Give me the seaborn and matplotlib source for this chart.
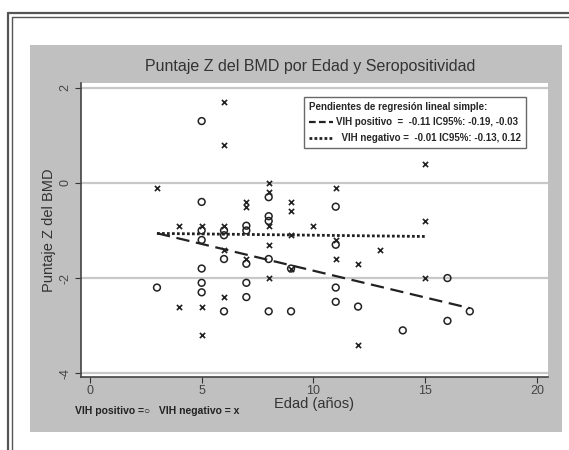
import numpy as np
import pandas as pd
import seaborn as sns
import matplotlib.pyplot as plt
from matplotlib.lines import Line2D
from matplotlib.patches import Rectangle

# Data (edad en años, puntaje Z)
pos_edad = [3, 5, 5, 5, 5, 5, 5, 5, 6, 6, 6, 6, 7, 7, 7, 7, 7,
            8, 8, 8, 8, 8, 9, 9, 11, 11, 11, 11, 12, 14, 16, 16, 17]
pos_z = [-2.2, 1.3, -0.4, -1.0, -1.2, -1.8, -2.1, -2.3, -1.0, -1.1, -1.6, -2.7,
         -0.9, -1.0, -1.7, -2.1, -2.4, -0.3, -0.7, -0.8, -1.6, -2.7, -1.8, -2.7,
         -0.5, -1.3, -2.2, -2.5, -2.6, -3.1, -2.0, -2.9, -2.7]

neg_edad = [3, 4, 4, 5, 5, 5, 6, 6, 6, 6, 6, 7, 7, 7, 8, 8, 8, 8, 8,
            9, 9, 9, 9, 10, 11, 11, 11, 12, 12, 13, 15, 15, 15]
neg_z = [-0.1, -0.9, -2.6, -0.9, -2.6, -3.2, 1.7, 0.8, -0.9, -1.4, -2.4,
         -0.4, -0.5, -1.6, 0.0, -0.2, -0.9, -1.3, -2.0, -0.4, -0.6, -1.1, -1.8,
         -0.9, -0.1, -1.2, -1.6, -1.7, -3.4, -1.4, 0.4, -0.8, -2.0]

x_ticks = [0, 5, 10, 15, 20]
y_ticks = [-4, -2, 0, 2]

pos = pd.DataFrame({"edad": pos_edad, "z": pos_z})
neg = pd.DataFrame({"edad": neg_edad, "z": neg_z})

sns.set_style("ticks")
plt.rcParams["font.family"] = ["Liberation Sans", "DejaVu Sans"]

W, H = 569, 450
fig = plt.figure(figsize=(W / 100, H / 100), dpi=100)
fig.patch.set_facecolor("white")

def fx(px):
    return px / W

def fy(py):
    return 1 - py / H

# grey Stata panel
fig.add_artist(Rectangle((fx(30), fy(432)), fx(562) - fx(30), fy(45) - fy(432),
                         transform=fig.transFigure, facecolor="#c0c0c0",
                         edgecolor="none", zorder=0))
# document frame (double line)
for x0 in (8, 12):
    fig.add_artist(Line2D([fx(x0), fx(x0)], [fy(x0 + 5), 0], transform=fig.transFigure,
                          color="#555555", lw=1.6 if x0 == 8 else 1.0))
    fig.add_artist(Line2D([fx(x0), 1], [fy(x0 + 5), fy(x0 + 5)], transform=fig.transFigure,
                          color="#555555", lw=1.6 if x0 == 8 else 1.0))

ax = fig.add_axes([fx(81), fy(377), fx(548) - fx(81), fy(83) - fy(377)])
ax.set_facecolor("white")

for yv in y_ticks:
    ax.axhline(yv, color="#c8c8c8", lw=1.6, zorder=0)

sns.scatterplot(data=pos, x="edad", y="z", marker="o", s=24, facecolor="none",
                edgecolor="#222222", linewidth=1.1, ax=ax, zorder=3)
sns.scatterplot(data=neg, x="edad", y="z", marker="x", s=14, color="#222222",
                linewidth=1.2, ax=ax, zorder=3)

sns.regplot(data=pos, x="edad", y="z", scatter=False, ci=None, ax=ax,
            line_kws=dict(color="#222222", lw=1.6, ls=(0, (6, 3))))
sns.regplot(data=neg, x="edad", y="z", scatter=False, ci=None, ax=ax,
            line_kws=dict(color="#222222", lw=2.0, ls=(0, (1, 0.8))))

ax.set_xlim(-0.4, 20.5)
ax.set_ylim(-4.08, 2.1)
ax.set_xticks(x_ticks)
ax.set_yticks(y_ticks)
ax.set_yticklabels([str(v) for v in y_ticks], rotation=90, va="center")
ax.tick_params(axis="both", labelsize=9, length=4, width=0.8, color="#333333",
               labelcolor="#444444")
ax.tick_params(axis="y", pad=3)
ax.tick_params(axis="x", pad=2)
for side in ("top", "right"):
    ax.spines[side].set_visible(False)
for side in ("left", "bottom"):
    ax.spines[side].set_color("#444444")
    ax.spines[side].set_linewidth(1.2)

ax.set_xlabel("Edad (años)", fontsize=10.5, color="#333333", labelpad=0)
ax.set_ylabel("Puntaje Z del BMD", fontsize=10.5, color="#333333", labelpad=2)
fig.text(fx(310), fy(66), "Puntaje Z del BMD por Edad y Seropositividad",
         ha="center", va="center", fontsize=11.5, color="#333333")

handles = [Line2D([], [], color="#222222", lw=1.6, ls=(0, (3, 1.5))),
           Line2D([], [], color="#222222", lw=2.0, ls=(0, (1, 0.8)))]
labels = ["VIH positivo  =  -0.11 IC95%: -0.19, -0.03",
          "  VIH negativo =  -0.01 IC95%: -0.13, 0.12"]
leg = ax.legend(handles, labels, title="Pendientes de regresión lineal simple:",
                loc="upper right", bbox_to_anchor=(0.964, 0.97), fontsize=7,
                title_fontproperties={"size": 7, "weight": "bold"},
                prop={"size": 7, "weight": "bold"}, alignment="left",
                frameon=True, fancybox=False, handlelength=2.4, handletextpad=0.4,
                borderpad=0.5, labelspacing=0.6)
leg.get_frame().set_edgecolor("#444444")
leg.get_frame().set_linewidth(1.0)

fig.text(fx(75), fy(411), "VIH positivo =○   VIH negativo = x", ha="left",
         va="center", fontsize=7.5, fontweight="bold", color="#222222")

fig.savefig("out.png", dpi=100)
